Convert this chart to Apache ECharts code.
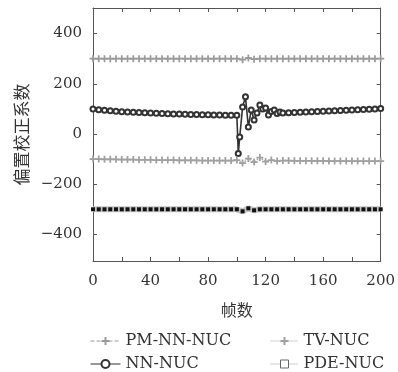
<!DOCTYPE html>
<html>
<head>
<meta charset="utf-8">
<script src="https://cdn.jsdelivr.net/npm/echarts@6/dist/echarts.min.js"></script>
<style>
  html, body { margin: 0; padding: 0; background: #fff; }
  #chart { width: 398px; height: 372px; }
</style>
</head>
<body>
<div id="chart"></div>
<script>
// 帧 (frames) shared by the three steady curves
const frames = [0, 4, 8, 12, 16, 20, 24, 28, 32, 36, 40, 44, 48, 52, 56, 60, 64, 68, 72, 76, 80, 84, 88, 92, 96,
  100, 104, 108, 112, 116, 120, 124, 128,
  132, 136, 140, 144, 148, 152, 156, 160, 164, 168, 172, 176, 180, 184, 188, 192, 196, 200];

const pmNnNuc = [300, 300, 300, 300, 300, 300, 300, 300, 300, 300, 300, 300, 300, 300, 300, 300, 300, 300, 300, 300, 300, 300, 300, 300, 300,
  300, 296, 303, 298, 300, 300, 300, 300,
  300, 300, 300, 300, 300, 300, 300, 300, 300, 300, 300, 300, 300, 300, 300, 300, 300, 300];

const tvNuc = [-100, -100, -101, -101, -101, -102, -102, -102, -103, -103, -103, -104, -104, -104, -104, -105, -105, -105, -105, -106, -106, -106, -106, -106, -106,
  -104, -116, -98, -112, -94, -110, -104, -108,
  -106, -106, -107, -107, -107, -107, -107, -107, -108, -108, -108, -108, -108, -108, -108, -108, -108, -108];

const pdeNuc = [-300, -300, -300, -300, -300, -300, -300, -300, -300, -300, -300, -300, -300, -300, -300, -300, -300, -300, -300, -300, -300, -300, -300, -300, -300,
  -300, -308, -296, -304, -300, -300, -300, -300,
  -300, -300, -300, -300, -300, -300, -300, -300, -300, -300, -300, -300, -300, -300, -300, -300, -300, -300];

// NN-NUC has its own sampling, denser around the jump at frame 100
const nnFrames = [0, 4, 8, 12, 16, 20, 24, 28, 32, 36, 40, 44, 48, 52, 56, 60, 64, 68, 72, 76, 80, 84, 88, 92, 96,
  100, 101, 102, 104, 106, 108, 110, 112, 114, 116, 118, 120, 122, 124, 126, 128, 130,
  132, 136, 140, 144, 148, 152, 156, 160, 164, 168, 172, 176, 180, 184, 188, 192, 196, 200];
const nnNuc = [100, 97, 95, 93, 91, 89, 88, 87, 86, 85, 84, 83, 82, 81, 80, 80, 79, 78, 78, 77, 77, 76, 76, 75, 75,
  75, -78, -12, 108, 148, 28, 96, 56, 84, 116, 100, 104, 76, 90, 96, 82, 88,
  84, 85, 86, 87, 88, 89, 90, 91, 92, 93, 94, 95, 96, 97, 98, 99, 100, 102];

const yTicks = [-400, -200, 0, 200, 400];
const seriesNames = ['PM-NN-NUC', 'NN-NUC', 'TV-NUC', 'PDE-NUC'];

const plusPath = 'path://M3,0h2v3h3v2h-3v3h-2v-3h-3v-2h3z';
const pair = (xs, ys) => xs.map((x, i) => [x, ys[i]]);
const serif = 'DejaVu Serif';
const axisColor = '#555';

const myChart = echarts.init(document.getElementById('chart'));

// one legend per entry so the two columns line up like the original
function legendAt(item, left, top, width) {
  return {
    data: [item],
    left: left, top: top,
    itemWidth: width, itemHeight: 10, itemGap: 0,
    textStyle: { fontFamily: serif, fontSize: 16, color: '#333' }
  };
}

const option = {
  backgroundColor: '#fff',
  animation: false,
  grid: { left: 93, right: 13, top: 8, bottom: 111 },
  legend: [
    legendAt({ name: seriesNames[0], lineStyle: { width: 1 } }, 85, 328, 30),
    legendAt({ name: seriesNames[1], lineStyle: { width: 1 } }, 85, 351, 30),
    legendAt({ name: seriesNames[2], lineStyle: { width: 1 } }, 265, 328, 28),
    legendAt({
      name: seriesNames[3],
      itemStyle: { color: '#fff', borderColor: '#666', borderWidth: 1 },
      lineStyle: { color: '#999', width: 1, type: 'dotted' }
    }, 265, 351, 28)
  ],
  xAxis: [
    {
      type: 'value', min: 0, max: 200, interval: 20,
      name: '帧数', nameLocation: 'middle', nameGap: 41,
      nameTextStyle: { fontFamily: 'Noto Sans CJK SC', fontSize: 16, color: '#333' },
      axisLine: { onZero: false, lineStyle: { color: axisColor } },
      axisTick: { inside: true, length: 4, lineStyle: { color: axisColor } },
      axisLabel: {
        margin: 13, fontFamily: serif, fontSize: 15, color: '#333',
        formatter: v => (v % 40 === 0 ? String(v) : '')
      },
      splitLine: { show: false }
    },
    {
      type: 'value', min: 0, max: 200, interval: 20, position: 'top',
      axisLine: { show: true, onZero: false, lineStyle: { color: axisColor } },
      axisTick: { inside: true, length: 4, lineStyle: { color: axisColor } },
      axisLabel: { show: false },
      splitLine: { show: false }
    }
  ],
  yAxis: [
    {
      type: 'value', min: -506, max: 502,
      name: '偏置校正系数', nameLocation: 'middle', nameGap: 62, nameRotate: 90,
      nameTextStyle: { fontFamily: 'Noto Sans CJK SC', fontSize: 17, color: '#333' },
      axisLine: { show: true, onZero: false, lineStyle: { color: axisColor } },
      axisTick: { inside: true, length: 4, customValues: yTicks, lineStyle: { color: axisColor } },
      axisLabel: {
        customValues: yTicks, margin: 11, fontFamily: serif, fontSize: 15, color: '#333',
        formatter: v => (v < 0 ? '\u2212' + Math.abs(v) : String(v))
      },
      splitLine: { show: false }
    },
    {
      type: 'value', min: -506, max: 502, position: 'right',
      axisLine: { show: true, onZero: false, lineStyle: { color: axisColor } },
      axisTick: { inside: true, length: 4, customValues: yTicks, lineStyle: { color: axisColor } },
      axisLabel: { show: false },
      splitLine: { show: false }
    }
  ],
  series: [
    {
      name: seriesNames[0], type: 'line',
      data: pair(frames, pmNnNuc),
      symbol: plusPath, symbolSize: 7,
      itemStyle: { color: '#9a9a9a' },
      lineStyle: { color: '#9a9a9a', width: 1.5, type: 'dashed' }
    },
    {
      name: seriesNames[1], type: 'line',
      data: pair(nnFrames, nnNuc),
      symbol: 'emptyCircle', symbolSize: 5,
      itemStyle: { color: '#333', borderWidth: 1 },
      lineStyle: { color: '#333', width: 1.6, type: 'solid' }
    },
    {
      name: seriesNames[2], type: 'line',
      data: pair(frames, tvNuc),
      symbol: plusPath, symbolSize: 7,
      itemStyle: { color: '#a0a0a0' },
      lineStyle: { color: '#a0a0a0', width: 1.5, type: 'dotted' }
    },
    {
      name: seriesNames[3], type: 'line',
      data: pair(frames, pdeNuc),
      symbol: 'rect', symbolSize: 4,
      itemStyle: { color: '#111' },
      lineStyle: { color: '#c4c4c4', width: 6, type: 'solid' }
    }
  ]
};

myChart.setOption(option);
</script>
</body>
</html>
